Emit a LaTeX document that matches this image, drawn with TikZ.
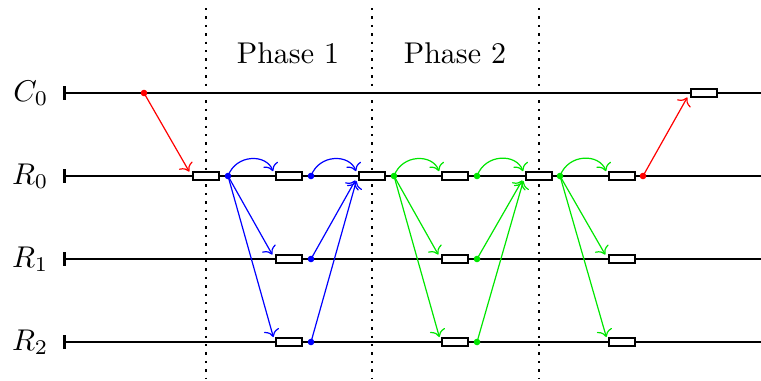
\documentclass[tikz,border=0pt]{standalone}
\usetikzlibrary{arrows.meta}
\definecolor{gr}{RGB}{0,230,0}
\begin{document}
\begin{tikzpicture}[x={(0.3333pt,0)},y={(0,-0.3333pt)},
  proc/.style={line width=0.9pt},
  sep/.style={thick,dotted},
  msgbox/.style={draw,line width=0.9pt,fill=white,minimum width=8.6pt,minimum height=2.6pt,inner sep=0pt},
  evdot/.style={circle,fill=#1,inner sep=0pt,minimum size=2.2pt},
  msg/.style={->,#1,shorten >=1.7pt},
  hop/.style={msg=#1,out=70,in=110,looseness=1.3},
  lbl/.style={anchor=east,inner sep=0pt}]
\useasboundingbox (0,0) rectangle (761,380);
% separators
\foreach \n/\x in {s1/206,s2/372,s3/539}{
  \coordinate (\n t) at (\x,8);
  \coordinate (\n b) at (\x,378);
  \draw[sep] (\n t) -- (\n b);
}
\node (ph1) at (288,53) {Phase 1};
\node (ph2) at (455,53) {Phase 2};
% process lines
\foreach \n/\y/\t in {c0/93/C_0,r0/176/R_0,r1/259/R_1,r2/342/R_2}{
  \coordinate (\n s) at (63,\y);
  \coordinate (\n e) at (761,\y);
  \node[lbl] (\n l) at (49,\y) {$\t$};
  \draw[proc,{Bar[width=4.4pt]}-] (\n s) -- (\n e);
}
% boxes
\node[msgbox] (c0x) at (704,93) {};
\foreach \i/\x in {a/206,b/289,c/372,d/455,e/539,f/622}{
  \node[msgbox] (r0\i) at (\x,176) {};
}
\foreach \r/\y in {r1/259,r2/342}{
  \foreach \i/\x in {b/289,d/455,f/622}{
    \node[msgbox] (\r\i) at (\x,\y) {};
  }
}
% dots
\node[evdot=red] (dc0) at (144,93) {};
\node[evdot=blue] (d0a) at (228,176) {};
\node[evdot=blue] (d0b) at (311,176) {};
\node[evdot=blue] (d1b) at (311,259) {};
\node[evdot=blue] (d2b) at (311,342) {};
\node[evdot=gr] (d0c) at (394,176) {};
\node[evdot=gr] (d0d) at (477,176) {};
\node[evdot=gr] (d1d) at (477,259) {};
\node[evdot=gr] (d2d) at (477,342) {};
\node[evdot=gr] (d0e) at (560,176) {};
\node[evdot=red] (dr0) at (643,176) {};
% messages
\draw[msg=red] (dc0.center) -- (r0a.west);
\draw[hop=blue] (d0a.center) to (r0b.west);
\draw[msg=blue] (d0a.center) -- (r1b.west);
\draw[msg=blue] (d0a.center) -- (r2b.west);
\draw[hop=blue] (d0b.center) to (r0c.west);
\draw[msg=blue] (d1b.center) -- (r0c.west);
\draw[msg=blue] (d2b.center) -- (r0c.west);
\draw[hop=gr] (d0c.center) to (r0d.west);
\draw[msg=gr] (d0c.center) -- (r1d.west);
\draw[msg=gr] (d0c.center) -- (r2d.west);
\draw[hop=gr] (d0d.center) to (r0e.west);
\draw[msg=gr] (d1d.center) -- (r0e.west);
\draw[msg=gr] (d2d.center) -- (r0e.west);
\draw[hop=gr] (d0e.center) to (r0f.west);
\draw[msg=gr] (d0e.center) -- (r1f.west);
\draw[msg=gr] (d0e.center) -- (r2f.west);
\draw[msg=red] (dr0.center) -- (c0x.west);
\end{tikzpicture}
\end{document}
